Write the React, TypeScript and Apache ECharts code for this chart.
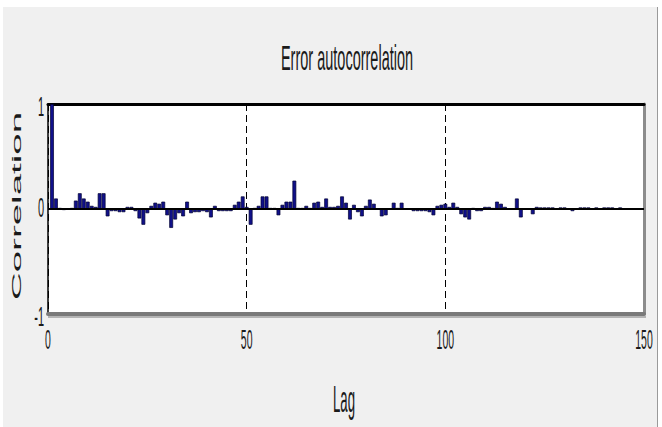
import React, { useEffect, useRef } from "react";
import * as echarts from "echarts";

const TITLE = "Error autocorrelation";
const X_NAME = "Lag";
const Y_NAME = "Correlation";

const LAGS = [
  1, 2, 3, 4, 5, 6, 7, 8, 9, 10, 11, 12, 13, 14, 15, 16, 17, 18, 19, 20,
  21, 22, 23, 24, 25, 26, 27, 28, 29, 30, 31, 32, 33, 34, 35, 36, 37, 38, 39, 40,
  41, 42, 43, 44, 45, 46, 47, 48, 49, 50, 51, 52, 53, 54, 55, 56, 57, 58, 59, 60,
  61, 62, 63, 64, 65, 66, 67, 68, 69, 70, 71, 72, 73, 74, 75, 76, 77, 78, 79, 80,
  81, 82, 83, 84, 85, 86, 87, 88, 89, 90, 91, 92, 93, 94, 95, 96, 97, 98, 99, 100,
  101, 102, 103, 104, 105, 106, 107, 108, 109, 110, 111, 112, 113, 114, 115, 116, 117, 118, 119, 120,
  121, 122, 123, 124, 125, 126, 127, 128, 129, 130, 131, 132, 133, 134, 135, 136, 137, 138, 139, 140,
  141, 142, 143, 144,
];

const CORR = [
  1.0, 0.1, 0.01, -0.01, 0.0, 0.01, 0.08, 0.15, 0.1, 0.07, 0.03, 0.02, 0.15, 0.15, -0.07, -0.02, -0.02, -0.03, -0.03, 0.02,
  0.02, -0.02, -0.09, -0.15, -0.04, 0.03, 0.06, 0.05, 0.07, -0.06, -0.18, -0.1, -0.04, -0.07, 0.07, -0.04, -0.03, -0.03, -0.02, -0.03,
  -0.08, 0.03, -0.02, -0.02, -0.02, -0.02, 0.04, 0.07, 0.12, 0.02, -0.15, 0.01, 0.03, 0.12, 0.12, 0.01, 0.01, -0.06, 0.04, 0.07,
  0.07, 0.27, 0.01, 0.01, 0.03, 0.01, 0.06, 0.07, 0.02, 0.1, 0.02, 0.02, 0.03, 0.12, 0.06, -0.1, 0.04, -0.03, -0.07, 0.03,
  0.09, 0.05, 0.0, -0.07, -0.06, 0.0, 0.06, 0.01, 0.06, 0.0, 0.0, -0.02, -0.02, -0.02, -0.02, -0.03, -0.06, 0.03, 0.04, 0.05,
  0.02, 0.06, 0.02, -0.05, -0.08, -0.1, 0.01, -0.02, -0.02, 0.02, 0.02, 0.01, 0.07, 0.05, 0.02, 0.0, 0.0, 0.1, -0.08, 0.0,
  0.0, -0.05, 0.02, 0.015, 0.015, 0.015, 0.015, 0.0, 0.015, 0.015, 0.0, -0.02, 0.0, 0.015, 0.015, 0.015, 0.0, 0.015, 0.0, 0.015,
  0.015, 0.015, 0.0, 0.015,
];

const X_TICKS = [0, 50, 100, 150];
const X_TICK_LABELS = ["0", "50", "100", "150"];
const Y_TICKS = [1, 0, -1];
const Y_TICK_LABELS = ["1", "0", "-1"];

const FONT = "'Liberation Sans', Arial, sans-serif";

export default function App() {
  const ref = useRef<HTMLDivElement>(null);

  useEffect(() => {
    document.body.style.margin = "0";
    const chart = echarts.init(ref.current!, null, { renderer: "svg" });

    chart.setOption({
      animation: false,
      backgroundColor: "#ffffff",
      grid: {
        left: 48,
        top: 104,
        width: 596,
        height: 210,
        show: true,
        backgroundColor: "#ffffff",
        borderWidth: 0,
      },
      xAxis: [
        {
          type: "value",
          min: 0,
          max: 150,
          interval: 50,
          position: "bottom",
          axisLine: { show: true, onZero: false, lineStyle: { color: "#7a7a7a", width: 4 } },
          axisTick: { show: false },
          axisLabel: { show: false },
          splitLine: { show: true, lineStyle: { color: "#000000", width: 1, type: [7, 4] } },
        },
        {
          type: "value",
          min: 0,
          max: 150,
          interval: 50,
          position: "top",
          axisLine: { show: true, onZero: false, lineStyle: { color: "#000000", width: 3 } },
          axisTick: { show: false },
          axisLabel: { show: false },
          splitLine: { show: false },
        },
      ],
      yAxis: [
        {
          type: "value",
          min: -1,
          max: 1,
          interval: 1,
          position: "left",
          axisLine: { show: true, onZero: false, lineStyle: { color: "#000000", width: 1.5 } },
          axisTick: { show: false },
          axisLabel: { show: false },
          splitLine: { show: false },
        },
        {
          type: "value",
          min: -1,
          max: 1,
          interval: 1,
          position: "right",
          axisLine: { show: true, onZero: false, lineStyle: { color: "#8c8c8c", width: 3 } },
          axisTick: { show: false },
          axisLabel: { show: false },
          splitLine: { show: false },
        },
      ],
      series: [
        {
          type: "bar",
          xAxisIndex: 0,
          yAxisIndex: 0,
          data: LAGS.map((l, i) => [l, CORR[i]]),
          barWidth: 3.8,
          itemStyle: { color: "#10108a", borderColor: "#000030", borderWidth: 0.7 },
          markLine: {
            silent: true,
            symbol: ["none", "none"],
            label: { show: false },
            lineStyle: { color: "#000000", width: 2.2, type: "solid" },
            data: [{ yAxis: 0 }],
          },
        },
      ],
    });

    const xPix = (v: number) => chart.convertToPixel({ xAxisIndex: 0 }, v) as number;
    const yPix = (v: number) => chart.convertToPixel({ yAxisIndex: 0 }, v) as number;

    const graphics: any[] = [
      {
        type: "rect",
        z: -100,
        shape: { x: 3, y: 7, width: 654, height: 420 },
        style: { fill: "#f0f0f0" },
      },
      {
        type: "line",
        z: -99,
        shape: { x1: 657.5, y1: 7, x2: 657.5, y2: 427 },
        style: { stroke: "#9a9a9a", lineWidth: 1 },
      },
      {
        type: "line",
        z: 50,
        shape: { x1: 48, y1: 317, x2: 646, y2: 317 },
        style: { stroke: "#b4b4b4", lineWidth: 2 },
      },
      {
        type: "text",
        z: 100,
        x: 347,
        y: 58,
        scaleY: 2.45,
        style: { text: TITLE, fontSize: 14.5, fontFamily: FONT, fill: "#1a1a1a", align: "center", verticalAlign: "middle" },
      },
      {
        type: "text",
        z: 100,
        x: 344,
        y: 399,
        scaleY: 2.8,
        style: { text: X_NAME, fontSize: 13.2, fontFamily: FONT, fill: "#1a1a1a", align: "center", verticalAlign: "middle" },
      },
      {
        type: "text",
        z: 100,
        x: 16,
        y: 206,
        rotation: Math.PI / 2,
        scaleX: 2.85,
        style: { text: Y_NAME, fontSize: 13.5, fontFamily: FONT, fill: "#1a1a1a", align: "center", verticalAlign: "middle" },
      },
    ];

    X_TICKS.forEach((v, i) => {
      graphics.push({
        type: "text",
        z: 100,
        x: xPix(v),
        y: 340,
        scaleY: 2.7,
        style: { text: X_TICK_LABELS[i], fontSize: 10.5, fontFamily: FONT, fill: "#1a1a1a", align: "center", verticalAlign: "middle" },
      });
    });

    Y_TICKS.forEach((v, i) => {
      graphics.push({
        type: "text",
        z: 100,
        x: 44,
        y: yPix(v) + (v === 1 ? 2 : v === 0 ? -2 : 2),
        scaleY: 2.5,
        style: { text: Y_TICK_LABELS[i], fontSize: 11, fontFamily: FONT, fill: "#1a1a1a", align: "right", verticalAlign: "middle" },
      });
    });

    chart.setOption({ graphic: graphics });

    return () => {
      chart.dispose();
    };
  }, []);

  return (
    <div
      ref={ref}
      style={{ position: "absolute", left: 0, top: 0, width: 662, height: 427 }}
    />
  );
}
